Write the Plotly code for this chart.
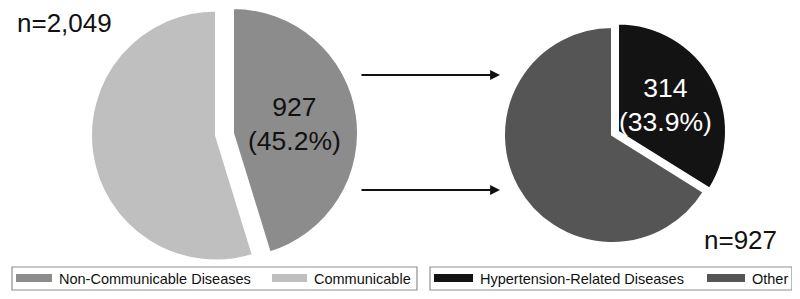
import math
import plotly.graph_objects as go

# page body has an 8px margin: the figure is placed at (8, 8)
OFF = 8
W, H = 800 - OFF, 299 - OFF

# ---- data ----
left_labels = ["Non-Communicable Diseases", "Communicable"]
left_values = [927, 1122]
left_colors = ["#8c8c8c", "#bfbfbf"]

right_labels = ["Hypertension-Related Diseases", "Other"]
right_values = [314, 613]
right_colors = ["#131313", "#555555"]

FONT = "Liberation Sans, Arial, Helvetica, sans-serif"
CLEAR = "rgba(0,0,0,0)"


def px(x):
    return (x - OFF) / W


def py(y):
    return 1 - (y - OFF) / H


def dom(cx, cy, r):
    return dict(x=[max(0, px(cx - r)), min(1, px(cx + r))],
                y=[max(0, py(cy + r)), min(1, py(cy - r))])


fig = go.Figure()


def add_pie_part(labels, values, colors, visible_idx, cx, cy, r):
    cols = [c if i in visible_idx else CLEAR for i, c in enumerate(colors)]
    lw = [2 if i in visible_idx else 0 for i in range(len(colors))]
    fig.add_trace(go.Pie(
        labels=labels, values=values, sort=False, direction="clockwise",
        rotation=0, textinfo="none", hoverinfo="label+value+percent",
        marker=dict(colors=cols, line=dict(color="white", width=lw)),
        domain=dom(cx, cy, r), showlegend=False,
    ))


# left pie: base (communicable) and exploded slice (NCD)
L_R = 125
L_BASE = (216, 135.5)
L_EXP = (233, 133)
add_pie_part(left_labels, left_values, left_colors, [1], *L_BASE, L_R)
add_pie_part(left_labels, left_values, left_colors, [0], *L_EXP, L_R)

# right pie
R_R = 108
R_BASE = (612, 135)
R_EXP = (618, 131.5)
add_pie_part(right_labels, right_values, right_colors, [1], *R_BASE, R_R)
add_pie_part(right_labels, right_values, right_colors, [0], *R_EXP, R_R)

annotations = []
shapes = []


def slice_label(values, center, r, color):
    total = sum(values)
    frac = values[0] / total
    mid = math.radians(frac * 360 / 2)
    x = center[0] + 0.5 * r * math.sin(mid)
    y = center[1] - 0.5 * r * math.cos(mid)
    annotations.append(dict(
        x=px(x), y=py(y), xref="paper", yref="paper", showarrow=False,
        text=f"{values[0]}<br>({frac * 100:.1f}%)",
        font=dict(family=FONT, size=26.5, color=color),
        xanchor="center", yanchor="middle", align="center",
    ))


slice_label(left_values, L_EXP, L_R, "#111111")
slice_label(right_values, R_EXP, R_R, "#ffffff")

# n labels
annotations.append(dict(x=px(17), y=py(OFF), xref="paper", yref="paper",
                        showarrow=False, text=f"n={sum(left_values):,}",
                        font=dict(family=FONT, size=26, color="#111"),
                        borderpad=0, borderwidth=0,
                        xanchor="left", yanchor="top"))
annotations.append(dict(x=px(779), y=py(240), xref="paper", yref="paper",
                        showarrow=False, text=f"n={sum(right_values):,}",
                        font=dict(family=FONT, size=26, color="#111"),
                        xanchor="right", yanchor="middle"))

# arrows
for yy in (75, 190):
    annotations.append(dict(x=px(500), y=py(yy), xref="paper", yref="paper",
                            ax=-140, ay=0, text="", showarrow=True,
                            arrowhead=2, arrowsize=1.1, arrowwidth=1.8,
                            arrowcolor="#111"))

# custom legends
def legend_box(x0, x1, items):
    shapes.append(dict(type="rect", xref="paper", yref="paper",
                       x0=px(x0), x1=px(x1), y0=py(290), y1=py(267),
                       line=dict(color="#8f8f8f", width=1.2), fillcolor="white"))
    for sx0, sx1, tx, label, color in items:
        shapes.append(dict(type="rect", xref="paper", yref="paper",
                           x0=px(sx0), x1=px(sx1), y0=py(282), y1=py(274),
                           line=dict(width=0), fillcolor=color))
        annotations.append(dict(x=px(tx), y=py(278.5), xref="paper", yref="paper",
                                showarrow=False, text=label,
                                font=dict(family=FONT, size=14.5, color="#111"),
                                xanchor="left", yanchor="middle"))


legend_box(12, 417, [(16, 52, 57, left_labels[0], left_colors[0]),
                     (272, 307, 312, left_labels[1], left_colors[1])])
legend_box(430, 792, [(434, 473, 478, right_labels[0], right_colors[0]),
                      (707, 745, 750, right_labels[1], right_colors[1])])

fig.update_layout(
    width=W, height=H, margin=dict(l=0, r=0, t=0, b=0),
    paper_bgcolor="white", plot_bgcolor="white",
    annotations=annotations, shapes=shapes, showlegend=False,
)

fig.write_html("out.html")
